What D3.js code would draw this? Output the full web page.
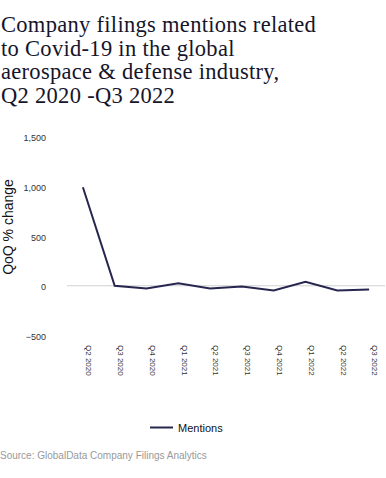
<!DOCTYPE html>
<html>
<head>
<meta charset="utf-8">
<script src="https://cdn.jsdelivr.net/npm/d3@7"></script>
<style>
  body { margin: 0; background: #fff; }
  svg { display: block; }
</style>
</head>
<body>
<svg width="386" height="478"></svg>
<script>
var quarters = ["Q2 2020", "Q3 2020", "Q4 2020", "Q1 2021", "Q2 2021", "Q3 2021", "Q4 2021", "Q1 2022", "Q2 2022", "Q3 2022"];
var mentions = [990, 0, -27, 26, -27, -7, -47, 40, -47, -37];
var yTicks = [-500, 0, 500, 1000, 1500];
var titleLines = ["Company filings mentions related", "to Covid-19 in the global", "aerospace & defense industry,", "Q2 2020 -Q3 2022"];

var svg = d3.select("svg");
var lineColor = "#27264f";

// title
svg.append("g")
  .selectAll("text")
  .data(titleLines)
  .enter().append("text")
  .attr("x", 1)
  .attr("y", function(d, i) { return 32 + i * 23.5; })
  .attr("font-family", "Liberation Serif, Times New Roman, serif")
  .attr("font-size", 22.5)
  .attr("letter-spacing", 0.3)
  .attr("fill", "#15152b")
  .text(function(d) { return d; });

// scales
var xScale = d3.scalePoint()
  .domain(quarters)
  .range([67, 385])
  .padding(0.5);

var yScale = d3.scaleLinear()
  .domain([-500, 1500])
  .range([335.5, 136.5]);

// y axis labels, no line
var yAxis = d3.axisLeft(yScale)
  .tickValues(yTicks)
  .tickSize(0)
  .tickPadding(0)
  .tickFormat(d3.format(","));

var yg = svg.append("g")
  .attr("transform", "translate(46, 0)")
  .call(yAxis);
yg.select(".domain").remove();
yg.selectAll("text")
  .attr("font-family", "Liberation Sans, Arial, sans-serif")
  .attr("font-size", 9)
  .attr("fill", "#333")
  .attr("dy", "0.45em");

// zero line
svg.append("line")
  .attr("x1", 67)
  .attr("x2", 385)
  .attr("y1", yScale(0))
  .attr("y2", yScale(0))
  .attr("stroke", "#d0d0d0")
  .attr("stroke-width", 1);

// axis title
svg.append("text")
  .attr("transform", "translate(13, 227) rotate(-90)")
  .attr("text-anchor", "middle")
  .attr("font-family", "Liberation Sans, Arial, sans-serif")
  .attr("font-size", 14)
  .attr("fill", "#111")
  .text("QoQ % change");

// x axis labels rotated
var xAxis = d3.axisBottom(xScale)
  .tickSize(0)
  .tickPadding(0);

var xg = svg.append("g")
  .attr("transform", "translate(0, 345)")
  .call(xAxis);
xg.select(".domain").remove();
xg.selectAll("text")
  .attr("font-family", "Liberation Sans, Arial, sans-serif")
  .attr("font-size", 8)
  .attr("fill", "#333")
  .attr("text-anchor", "start")
  .attr("transform", "rotate(90)")
  .attr("x", 0)
  .attr("y", 0)
  .attr("dy", "-0.35em");

// line
var line = d3.line()
  .x(function(d, i) { return xScale(quarters[i]); })
  .y(function(d) { return yScale(d); });

svg.append("path")
  .datum(mentions)
  .attr("d", line)
  .attr("fill", "none")
  .attr("stroke", lineColor)
  .attr("stroke-width", 2);

// legend
svg.append("line")
  .attr("x1", 150)
  .attr("x2", 173)
  .attr("y1", 427.5)
  .attr("y2", 427.5)
  .attr("stroke", lineColor)
  .attr("stroke-width", 2);

svg.append("text")
  .attr("x", 178)
  .attr("y", 431.5)
  .attr("font-family", "Liberation Sans, Arial, sans-serif")
  .attr("font-size", 11)
  .attr("fill", "#111")
  .text("Mentions");

// source
svg.append("text")
  .attr("x", 0)
  .attr("y", 458.5)
  .attr("font-family", "Liberation Sans, Arial, sans-serif")
  .attr("font-size", 10)
  .attr("fill", "#999")
  .text("Source: GlobalData Company Filings Analytics");
</script>
</body>
</html>
